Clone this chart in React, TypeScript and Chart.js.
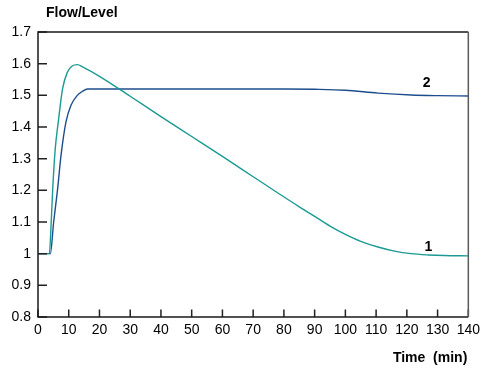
import React, { useEffect, useRef } from 'react';
import { Chart, registerables } from 'chart.js';

Chart.register(...registerables);

// Curve 1 (teal) - flow
const curve1X = [0, 3.7, 4.3, 4.8, 5.6, 6.6, 8.0, 9.6, 11.0, 12.85, 14.5, 20, 30, 40, 50, 60, 70, 78.3, 85, 90, 95, 100, 105, 110.6, 116, 121.4, 127, 132.2, 140];
const curve1Y = [1.0, 1.0, 1.1, 1.206, 1.33, 1.416, 1.521, 1.574, 1.592, 1.597, 1.59, 1.56, 1.497, 1.433, 1.37, 1.307, 1.243, 1.19, 1.148, 1.118, 1.087, 1.061, 1.039, 1.021, 1.008, 1.0, 0.996, 0.994, 0.993];

// Curve 2 (dark blue) - level
const curve2X = [0, 4.0, 5.1, 6.4, 7.5, 9.1, 10.7, 12.8, 14.5, 16.1, 40, 60, 80, 90, 100, 110.6, 121.4, 130, 140];
const curve2Y = [1.0, 1.0, 1.1, 1.206, 1.311, 1.416, 1.468, 1.5, 1.513, 1.52, 1.52, 1.52, 1.52, 1.519, 1.516, 1.507, 1.501, 1.499, 1.498];

const xTicks = [0, 10, 20, 30, 40, 50, 60, 70, 80, 90, 100, 110, 120, 130, 140];
const xTickLabels = ['0', '10', '20', '30', '40', '50', '60', '70', '80', '90', '100', '110', '120', '130', '140'];
const yTicks = [0.8, 0.9, 1.0, 1.1, 1.2, 1.3, 1.4, 1.5, 1.6, 1.7];
const yTickLabels = ['0.8', '0.9', '1', '1.1', '1.2', '1.3', '1.4', '1.5', '1.6', '1.7'];

const seriesNames = ['1', '2'];
const seriesLabelAt = [
  { x: 127.0, y: 1.021 },
  { x: 126.4, y: 1.537 },
];
const yTitle = 'Flow/Level';
const xTitle = 'Time  (min)';

const TEAL = '#1b9a93';
const BLUE = '#1d4d8c';
const FONT = '"Liberation Sans", Arial, Helvetica, sans-serif';

export default function App() {
  const ref = useRef<HTMLCanvasElement | null>(null);

  useEffect(() => {
    const canvas = ref.current;
    if (!canvas) return;

    const decor = {
      id: 'decor',
      afterDatasetsDraw(chart: any) {
        const { ctx, chartArea: a, scales } = chart;
        ctx.save();
        ctx.lineCap = 'butt';
        // inward ticks
        ctx.strokeStyle = '#222';
        ctx.lineWidth = 1.5;
        ctx.beginPath();
        yTicks.forEach((v) => {
          const py = scales.y.getPixelForValue(v);
          ctx.moveTo(a.left, py);
          ctx.lineTo(a.left + 9, py);
        });
        xTicks.forEach((v) => {
          const px = scales.x.getPixelForValue(v);
          ctx.moveTo(px, a.bottom);
          ctx.lineTo(px, a.bottom - 7.5);
        });
        ctx.stroke();
        // frame: left, bottom, top
        ctx.strokeStyle = '#1a1a1a';
        ctx.beginPath();
        ctx.moveTo(a.right, a.top);
        ctx.lineTo(a.left, a.top);
        ctx.lineTo(a.left, a.bottom);
        ctx.lineTo(a.right, a.bottom);
        ctx.stroke();
        // right border (grey)
        ctx.strokeStyle = '#5a5a5a';
        ctx.beginPath();
        ctx.moveTo(a.right, a.top);
        ctx.lineTo(a.right, a.bottom);
        ctx.stroke();

        // titles
        ctx.fillStyle = '#000';
        ctx.font = 'bold 14px ' + FONT;
        ctx.textBaseline = 'middle';
        ctx.textAlign = 'left';
        ctx.fillText(yTitle, 46, 13.5);
        ctx.textAlign = 'right';
        ctx.fillText(xTitle, a.right - 1, 358);

        // series labels
        ctx.textAlign = 'center';
        seriesNames.forEach((name, i) => {
          const p = seriesLabelAt[i];
          ctx.fillText(name, scales.x.getPixelForValue(p.x), scales.y.getPixelForValue(p.y));
        });
        ctx.restore();
      },
    };

    const chart = new Chart(canvas, {
      type: 'line',
      data: {
        datasets: [
          {
            label: seriesNames[0],
            data: curve1X.map((x, i) => ({ x, y: curve1Y[i] })),
            borderColor: TEAL,
            borderWidth: 1.4,
            pointRadius: 0,
            cubicInterpolationMode: 'monotone',
            fill: false,
          },
          {
            label: seriesNames[1],
            data: curve2X.map((x, i) => ({ x, y: curve2Y[i] })),
            borderColor: BLUE,
            borderWidth: 1.4,
            pointRadius: 0,
            cubicInterpolationMode: 'monotone',
            fill: false,
          },
        ],
      },
      options: {
        responsive: false,
        animation: false,
        events: [],
        layout: { padding: { top: 32, right: 14, left: 0, bottom: 0 } },
        plugins: {
          legend: { display: false },
          tooltip: { enabled: false },
          title: { display: false },
        },
        scales: {
          x: {
            type: 'linear',
            min: 0,
            max: 140,
            grid: { display: false, drawTicks: false },
            border: { display: false },
            afterBuildTicks: (scale: any) => {
              scale.ticks = xTicks.map((v) => ({ value: v }));
            },
            afterFit: (scale: any) => {
              scale.height = 53;
            },
            ticks: {
              autoSkip: false,
              maxRotation: 0,
              padding: 5,
              color: '#000',
              font: { family: FONT, size: 14 },
              callback: (v: any) => {
                const i = xTicks.findIndex((t) => Math.abs(t - Number(v)) < 1e-6);
                return i >= 0 ? xTickLabels[i] : '';
              },
            },
          },
          y: {
            type: 'linear',
            min: 0.8,
            max: 1.7,
            grid: { display: false, drawTicks: false },
            border: { display: false },
            afterBuildTicks: (scale: any) => {
              scale.ticks = yTicks.map((v) => ({ value: v }));
            },
            afterFit: (scale: any) => {
              scale.width = 38;
            },
            ticks: {
              autoSkip: false,
              padding: 7,
              color: '#000',
              font: { family: FONT, size: 14 },
              callback: (v: any) => {
                const i = yTicks.findIndex((t) => Math.abs(t - Number(v)) < 1e-6);
                return i >= 0 ? yTickLabels[i] : '';
              },
            },
          },
        },
      },
      plugins: [decor],
    } as any);

    return () => chart.destroy();
  }, []);

  return (
    <div style={{ position: 'fixed', left: 0, top: 0, width: 485, height: 370, background: '#fff' }}>
      <canvas ref={ref} width={485} height={370} style={{ display: 'block', width: 485, height: 370 }} />
    </div>
  );
}
